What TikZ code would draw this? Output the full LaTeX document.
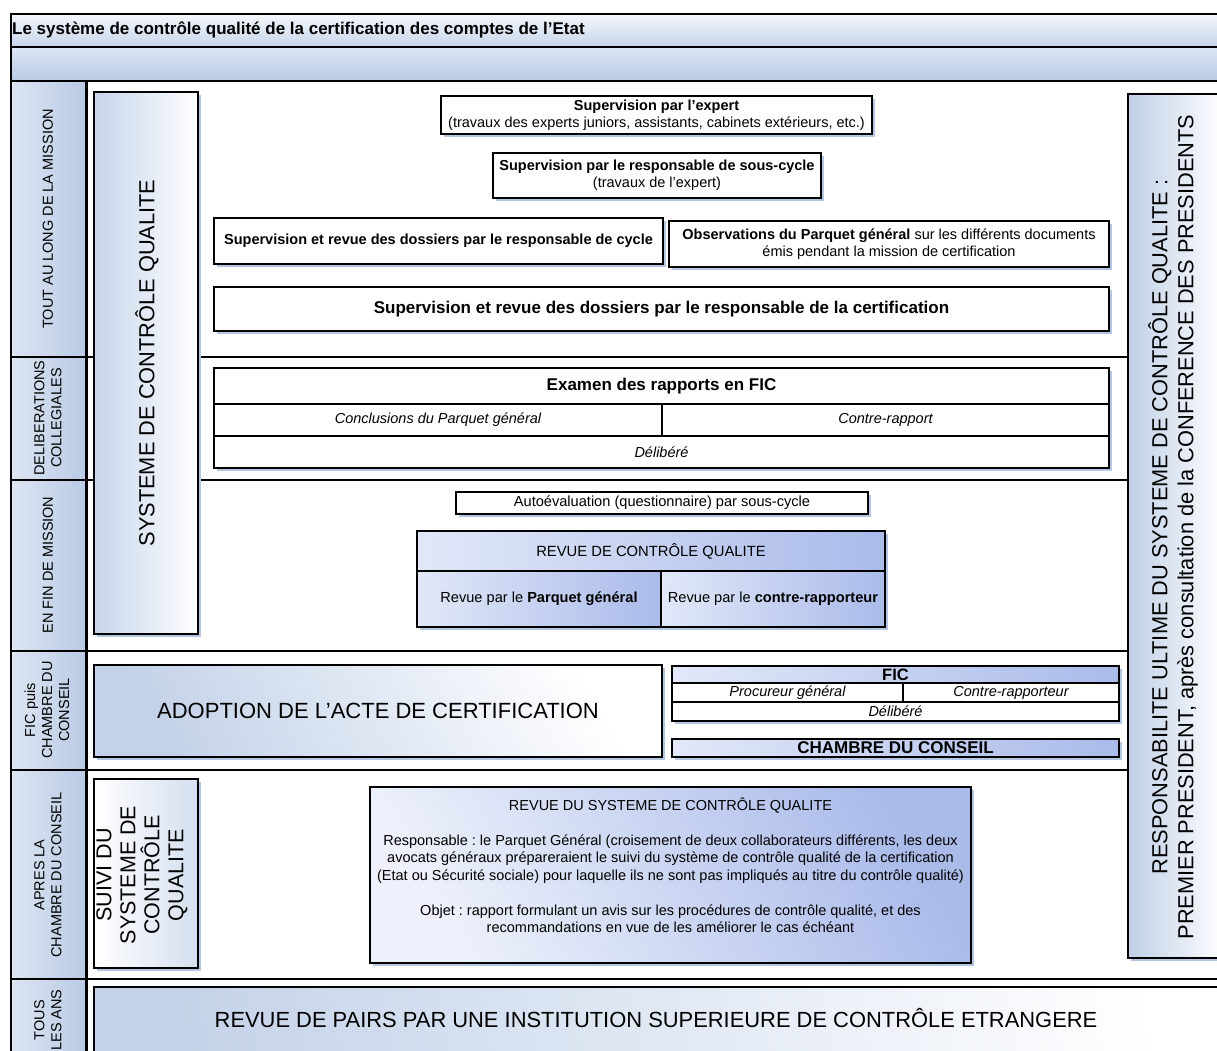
\documentclass[tikz,border=0pt]{standalone}
\usepackage{fontspec}
\setmainfont{Liberation Sans}
\usetikzlibrary{shadows}
\frenchspacing
\definecolor{shd}{HTML}{B4C6E2}
\definecolor{lbA}{HTML}{DDE6F3}
\definecolor{lbB}{HTML}{B9CAE5}
\definecolor{bbA}{HTML}{E2E8F8}
\definecolor{bbB}{HTML}{AABBEA}
\tikzset{
  f/.style={font=\fontsize{#1}{17}\selectfont},
  bx/.style={draw=black, line width=1.6pt, fill=white, inner sep=0pt, outer sep=0pt,
    drop shadow={shadow xshift=3pt,shadow yshift=-3pt,fill=shd,opacity=1}},
  cell/.style={draw=black, line width=1.6pt, fill=white, inner sep=0pt, outer sep=0pt},
  bluecell/.style={cell, left color=bbA, right color=bbB},
  lab/.style={draw=black, line width=2pt, left color=lbA, right color=lbB, inner sep=0pt, outer sep=0pt},
  labtxt/.style={rotate=90, align=center, font=\fontsize{14.5}{17}\selectfont},
  sep/.style={line width=2.6pt},
  itc/.style={cell, font=\itshape\fontsize{14.5}{17}\selectfont},
}
\begin{document}
\begin{tikzpicture}[x=1pt,y=-1pt]
\useasboundingbox (0,0) rectangle (1217,1050);
% header bands
\node[draw=black, line width=1.4pt, top color=white!70!lbA, bottom color=lbB!80!white, minimum width=1216, minimum height=33, inner sep=0pt] (title) at (619,30.5) {};
\node[anchor=west, inner sep=0pt, font=\bfseries\fontsize{17}{20}\selectfont] (titletxt) at (12,30) {Le système de contrôle qualité de la certification des comptes de l’Etat};
\node[draw=black, line width=1.4pt, top color=lbA, bottom color=lbB, minimum width=1216, minimum height=34, inner sep=0pt] (band2) at (619,64) {};
% label column
\node[lab, minimum width=75, minimum height=276] (l1) at (48.5,219) {};
\node[lab, minimum width=75, minimum height=123] (l2) at (48.5,418.5) {};
\node[lab, minimum width=75, minimum height=171] (l3) at (48.5,565.5) {};
\node[lab, minimum width=75, minimum height=119] (l4) at (48.5,710.5) {};
\node[lab, minimum width=75, minimum height=209] (l5) at (48.5,874.5) {};
\node[lab, minimum width=75, minimum height=81] (l6) at (48.5,1019.5) {};
\node[labtxt] (t1) at (48,219) {TOUT AU LONG DE LA MISSION};
\node[labtxt] (t2) at (48,418) {DELIBERATIONS\\COLLEGIALES};
\node[labtxt] (t3) at (48,565) {EN FIN DE MISSION};
\node[labtxt] (t4) at (47,710) {FIC puis\\CHAMBRE DU\\CONSEIL};
\node[labtxt] (t5) at (48,875) {APRES LA\\CHAMBRE DU CONSEIL};
\node[labtxt] (t6) at (48,1020) {TOUS\\LES ANS};
% row separators
\coordinate (s0a) at (11,81);  \coordinate (s0b) at (1220,81);
\coordinate (s1a) at (86,357); \coordinate (s1b) at (1128,357);
\coordinate (s2a) at (86,480); \coordinate (s2b) at (1128,480);
\coordinate (s3a) at (86,651); \coordinate (s3b) at (1128,651);
\coordinate (s4a) at (86,770); \coordinate (s4b) at (1128,770);
\coordinate (s5a) at (86,979); \coordinate (s5b) at (1220,979);
\coordinate (v1a) at (87,81);  \coordinate (v1b) at (87,1055);
\draw[sep] (s0a) -- (s0b);
\draw[sep] (s1a) -- (s1b);
\draw[sep] (s2a) -- (s2b);
\draw[sep] (s3a) -- (s3b);
\draw[sep] (s4a) -- (s4b);
\draw[sep] (s5a) -- (s5b);
\draw[sep] (v1a) -- (v1b);
% left big box
\node[bx, left color=lbB!80!white, right color=white, minimum width=104, minimum height=542] (scq) at (146,363) {};
\node[rotate=90, font=\fontsize{21.8}{25}\selectfont] (scqtxt) at (147,363) {SYSTEME DE CONTRÔLE QUALITE};
% right big box
\node[bx, left color=lbB!90!white, right color=white, minimum width=97, minimum height=864] (resp) at (1176.5,526) {};
\node[rotate=90, align=center, font=\fontsize{21.8}{26}\selectfont] (resptxt) at (1173,527) {RESPONSABILITE ULTIME DU SYSTEME DE CONTRÔLE QUALITE :\\PREMIER PRESIDENT, après consultation de la CONFERENCE DES PRESIDENTS};
% row 1
\node[bx, align=center, f=14.5, minimum width=431, minimum height=38] (expert) at (656.5,115) {\textbf{Supervision par l’expert}\\(travaux des experts juniors, assistants, cabinets extérieurs, etc.)};
\node[bx, align=center, f=14.5, minimum width=328, minimum height=45] (ssc) at (657,175.5) {\textbf{Supervision par le responsable de sous-cycle}\\(travaux de l’expert)};
\node[bx, align=center, f=14.5, minimum width=449, minimum height=46] (cycle) at (438.5,241) {\textbf{Supervision et revue des dossiers par le responsable de cycle}};
\node[bx, align=center, f=14.5, minimum width=440, minimum height=46] (obs) at (889,244) {\textbf{Observations du Parquet général} sur les différents documents\\émis pendant la mission de certification};
\node[bx, align=center, font=\bfseries\fontsize{17}{20}\selectfont, minimum width=895, minimum height=44] (certif) at (661.5,309) {Supervision et revue des dossiers par le responsable de la certification};
% row 2
\node[bx, minimum width=895, minimum height=100] (ficblk) at (661.5,418) {};
\node[cell, font=\bfseries\fontsize{17}{20}\selectfont, minimum width=895, minimum height=36] (examen) at (661.5,386) {Examen des rapports en FIC};
\node[itc, minimum width=448, minimum height=32] (concl) at (438,420) {Conclusions du Parquet général};
\node[itc, minimum width=447, minimum height=32] (contre) at (885.5,420) {Contre-rapport};
\node[itc, minimum width=895, minimum height=32] (delib) at (661.5,452) {Délibéré};
% row 3
\node[bx, f=14.6, minimum width=412, minimum height=22] (auto) at (662,503) {Autoévaluation (questionnaire) par sous-cycle};
\node[bx, minimum width=468, minimum height=96] (rcqblk) at (651,579) {};
\node[bluecell, f=14.8, minimum width=468, minimum height=40] (rcq) at (651,551) {REVUE DE CONTRÔLE QUALITE};
\node[bluecell, f=14.6, minimum width=244, minimum height=56] (rpg) at (539,599) {Revue par le \textbf{Parquet général}};
\node[bluecell, f=14.6, minimum width=224, minimum height=56] (rcr) at (773,599) {Revue par le \textbf{contre-rapporteur}};
% row 4
\node[bx, left color=lbB!85!white, right color=white, shading angle=120, font=\fontsize{22}{26}\selectfont, minimum width=568, minimum height=92] (adopt) at (378,711) {ADOPTION DE L’ACTE DE CERTIFICATION};
\node[bx, minimum width=447, minimum height=55] (fic2blk) at (895.5,693.5) {};
\node[bluecell, font=\bfseries\fontsize{16.5}{18}\selectfont, minimum width=447, minimum height=17] (fic2) at (895.5,674.5) {FIC};
\node[itc, minimum width=231, minimum height=19] (proc) at (787.5,692.5) {Procureur général};
\node[itc, minimum width=216, minimum height=19] (crap) at (1011,692.5) {Contre-rapporteur};
\node[itc, minimum width=447, minimum height=19] (delib2) at (895.5,711.5) {Délibéré};
\node[bx, left color=bbA, right color=bbB, font=\bfseries\fontsize{17}{18}\selectfont, minimum width=447, minimum height=18] (chambre) at (895.5,748) {CHAMBRE DU CONSEIL};
% row 5
\node[bx, left color=white, right color=lbB!60!white, minimum width=104, minimum height=189] (suivi) at (146,873.5) {};
\node[rotate=90, align=center, font=\fontsize{21.5}{24}\selectfont] (suivitxt) at (142,875) {SUIVI DU\\SYSTEME DE\\CONTRÔLE\\QUALITE};
\node[bx, left color=bbA!60!white, right color=bbB, shading angle=120, minimum width=601, minimum height=176] (revsys) at (670.5,875) {};
\node[align=center, font=\fontsize{14.5}{17.5}\selectfont] (revsystxt) at (670.5,865) {REVUE DU SYSTEME DE CONTRÔLE QUALITE\\[17.5pt]
Responsable : le Parquet Général (croisement de deux collaborateurs différents, les deux\\
avocats généraux prépareraient le suivi du système de contrôle qualité de la certification\\
(Etat ou Sécurité sociale) pour laquelle ils ne sont pas impliqués au titre du contrôle qualité)\\[17.5pt]
Objet : rapport formulant un avis sur les procédures de contrôle qualité, et des\\
recommandations en vue de les améliorer le cas échéant};
% row 6
\node[bx, left color=lbB!85!white, right color=white, shading angle=100, minimum width=1136, minimum height=80] (pairs) at (662,1027) {};
\node[font=\fontsize{21.9}{24}\selectfont] (pairstxt) at (656,1018) {REVUE DE PAIRS PAR UNE INSTITUTION SUPERIEURE DE CONTRÔLE ETRANGERE};
\end{tikzpicture}
\end{document}
